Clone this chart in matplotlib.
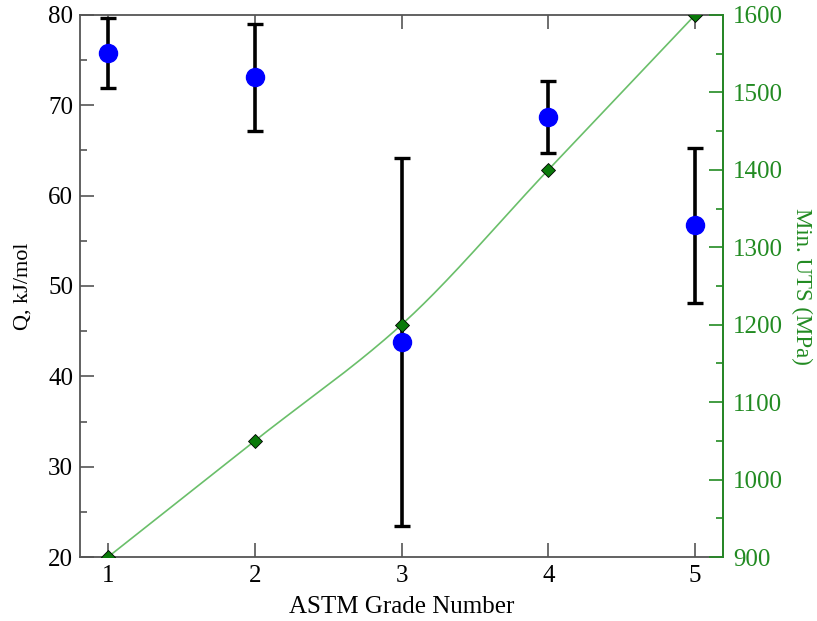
import numpy as np
import matplotlib
matplotlib.use('Agg')
import matplotlib.pyplot as plt
import matplotlib.ticker as ticker

plt.rcParams['font.family'] = ['Liberation Serif', 'DejaVu Serif']

# data
grade = [1, 2, 3, 4, 5]
q_kj = [75.8, 73.1, 43.8, 68.7, 56.7]
q_err = [3.9, 5.9, 20.4, 4.0, 8.6]
uts_mpa = [900, 1050, 1200, 1400, 1600]

GRAY = "#555555"
GREEN = "#228b22"


def pchip_curve(x, y, n=60):
    # monotone cubic (Fritsch-Carlson) curve through the UTS points
    x = np.asarray(x, float); y = np.asarray(y, float)
    h = np.diff(x); d = np.diff(y) / h
    m = np.zeros_like(y)
    m[0], m[-1] = d[0], d[-1]
    for i in range(1, len(x) - 1):
        if d[i - 1] * d[i] > 0:
            w1 = 2 * h[i] + h[i - 1]; w2 = h[i] + 2 * h[i - 1]
            m[i] = (w1 + w2) / (w1 / d[i - 1] + w2 / d[i])
    xs_all, ys_all = [], []
    for i in range(len(x) - 1):
        t = np.linspace(0, 1, n)
        h00 = 2 * t**3 - 3 * t**2 + 1; h10 = t**3 - 2 * t**2 + t
        h01 = -2 * t**3 + 3 * t**2; h11 = t**3 - t**2
        xs_all.append(x[i] + t * h[i])
        ys_all.append(h00 * y[i] + h10 * h[i] * m[i] + h01 * y[i + 1] + h11 * h[i] * m[i + 1])
    return np.concatenate(xs_all), np.concatenate(ys_all)


fig = plt.figure(figsize=(8.17, 6.21), dpi=100)
ax = fig.add_axes([0.098, 0.103, 0.787, 0.873])
ax.set_xlim(0.81, 5.19); ax.set_ylim(20, 80)
ax.errorbar(grade, q_kj, yerr=q_err, fmt='o', color='blue', markersize=13,
            ecolor='black', elinewidth=2.6, capsize=6, capthick=2.4, zorder=3)
ax.set_xlabel("ASTM Grade Number", fontsize=18, labelpad=6)
ax.set_ylabel("Q, kJ/mol", fontsize=16, labelpad=11)
ax.xaxis.set_major_locator(ticker.MultipleLocator(1))
ax.yaxis.set_major_locator(ticker.MultipleLocator(10))
ax.yaxis.set_minor_locator(ticker.MultipleLocator(5))
ax.tick_params(which='both', direction='in', colors=GRAY, labelcolor='black',
               labelsize=18, top=True, right=False)
ax.tick_params(axis='x', pad=6)
ax.tick_params(axis='y', pad=5)
ax.tick_params(which='major', length=10, width=1.2)
ax.tick_params(which='minor', length=5, width=1.2)
for s in ax.spines.values():
    s.set_color(GRAY); s.set_linewidth(1.3)

ax2 = ax.twinx()
ax2.set_ylim(900, 1600)
xs, ys = pchip_curve(grade, uts_mpa)
ax2.plot(xs, ys, color="#6abf6a", linewidth=1.2, zorder=2)
ax2.plot(grade, uts_mpa, 'D', color="#0a7a0a", markeredgecolor='black',
         markeredgewidth=0.6, markersize=7, zorder=4)
ax2.set_ylabel("Min. UTS (MPa)", color=GREEN, fontsize=16.5, rotation=270, labelpad=21)
ax2.yaxis.set_major_locator(ticker.MultipleLocator(100))
ax2.yaxis.set_minor_locator(ticker.MultipleLocator(50))
ax2.tick_params(which='both', direction='in', colors=GREEN, labelsize=18, pad=7)
ax2.tick_params(which='major', length=10, width=1.2)
ax2.tick_params(which='minor', length=5, width=1.2)
for s in ax2.spines.values():
    s.set_visible(False)
ax2.spines['right'].set_visible(True)
ax2.spines['right'].set_color(GREEN); ax2.spines['right'].set_linewidth(1.3)

plt.savefig("out.png", dpi=100, facecolor='white')
